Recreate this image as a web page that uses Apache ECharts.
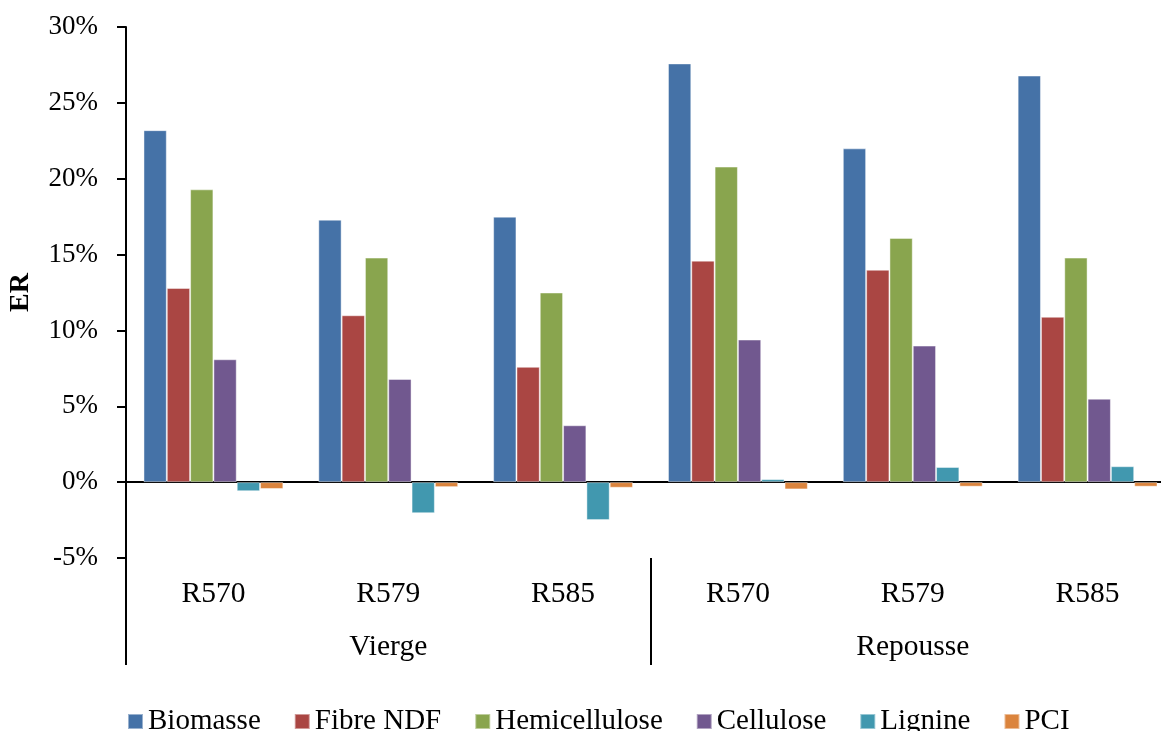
<!DOCTYPE html>
<html>
<head>
<meta charset="utf-8">
<script src="https://cdn.jsdelivr.net/npm/echarts@6/dist/echarts.min.js"></script>
<style>
html,body{margin:0;padding:0;background:#fff;}
#chart{width:1161px;height:731px;}
</style>
</head>
<body>
<div id="chart"></div>
<script>
const categories = ['R570', 'R579', 'R585', 'R570', 'R579', 'R585'];
const groups = ['Vierge', 'Repousse'];
const seriesNames = ['Biomasse', 'Fibre NDF', 'Hemicellulose', 'Cellulose', 'Lignine', 'PCI'];
const biomasse = [23.2, 17.3, 17.5, 27.6, 22.0, 26.8];
const fibreNDF = [12.8, 11.0, 7.6, 14.6, 14.0, 10.9];
const hemicellulose = [19.3, 14.8, 12.5, 20.8, 16.1, 14.8];
const cellulose = [8.1, 6.8, 3.75, 9.4, 9.0, 5.5];
const lignine = [-0.6, -2.05, -2.5, 0.2, 1.0, 1.05];
const pci = [-0.45, -0.33, -0.37, -0.48, -0.3, -0.3];
const yTicks = { min: -5, max: 30, interval: 5 };

const colors = ['#4572A7', '#AA4643', '#89A54E', '#71588F', '#4198AF', '#DB843D'];
const values = [biomasse, fibreNDF, hemicellulose, cellulose, lignine, pci];
const font = 'Liberation Serif';

const chart = echarts.init(document.getElementById('chart'), null, { renderer: 'canvas' });
chart.setOption({
  animation: false,
  color: colors,
  textStyle: { fontFamily: font, color: '#000' },
  grid: [
    { left: 126, width: 1049, top: 27, height: 531, outerBoundsMode: 'none', containLabel: false },
    { left: 126, width: 1049, top: 558, height: 107, outerBoundsMode: 'none', containLabel: false }
  ],
  legend: {
    data: seriesNames,
    left: 122, top: 702,
    icon: 'rect', itemWidth: 15, itemHeight: 15, itemGap: 33,
    textStyle: { fontFamily: font, fontSize: 29, color: '#000' }
  },
  xAxis: [
    {
      type: 'category', gridIndex: 0, data: categories,
      axisLine: { onZero: true, lineStyle: { color: '#000', width: 2 } },
      axisTick: { show: false }, axisLabel: { show: false }
    },
    {
      type: 'category', gridIndex: 0, data: categories, position: 'bottom',
      axisLine: { show: false, onZero: false }, axisTick: { show: false },
      axisLabel: { fontFamily: font, fontSize: 29.5, color: '#000', margin: 21 }
    },
    {
      type: 'category', gridIndex: 1, data: groups, position: 'bottom',
      axisLine: { show: false, onZero: false }, axisTick: { show: false },
      splitLine: { show: true, lineStyle: { color: '#000', width: 2 } },
      axisLabel: { inside: true, margin: 3, fontFamily: font, fontSize: 29.5, color: '#000' }
    }
  ],
  yAxis: [
    {
      type: 'value', gridIndex: 0, min: yTicks.min, max: yTicks.max, interval: yTicks.interval,
      name: 'ER', nameLocation: 'middle', nameRotate: 90, nameGap: 91,
      nameTextStyle: { fontFamily: font, fontSize: 28, fontWeight: 'bold', color: '#000' },
      axisLine: { show: true, lineStyle: { color: '#000', width: 2 } },
      axisTick: { show: true, length: 9, lineStyle: { color: '#000', width: 2 } },
      splitLine: { show: false },
      axisLabel: { formatter: '{value}%', fontFamily: font, fontSize: 27, color: '#000', margin: 28 }
    },
    {
      type: 'value', gridIndex: 1, min: 0, max: 1, show: false
    }
  ],
  series: seriesNames.map((n, i) => ({
    name: n, type: 'bar', xAxisIndex: 0, yAxisIndex: 0,
    data: values[i],
    barGap: '0%', barCategoryGap: '20%',
    itemStyle: { color: colors[i], borderColor: 'rgba(255,255,255,0.45)', borderWidth: 1 }
  }))
});
</script>
</body>
</html>
